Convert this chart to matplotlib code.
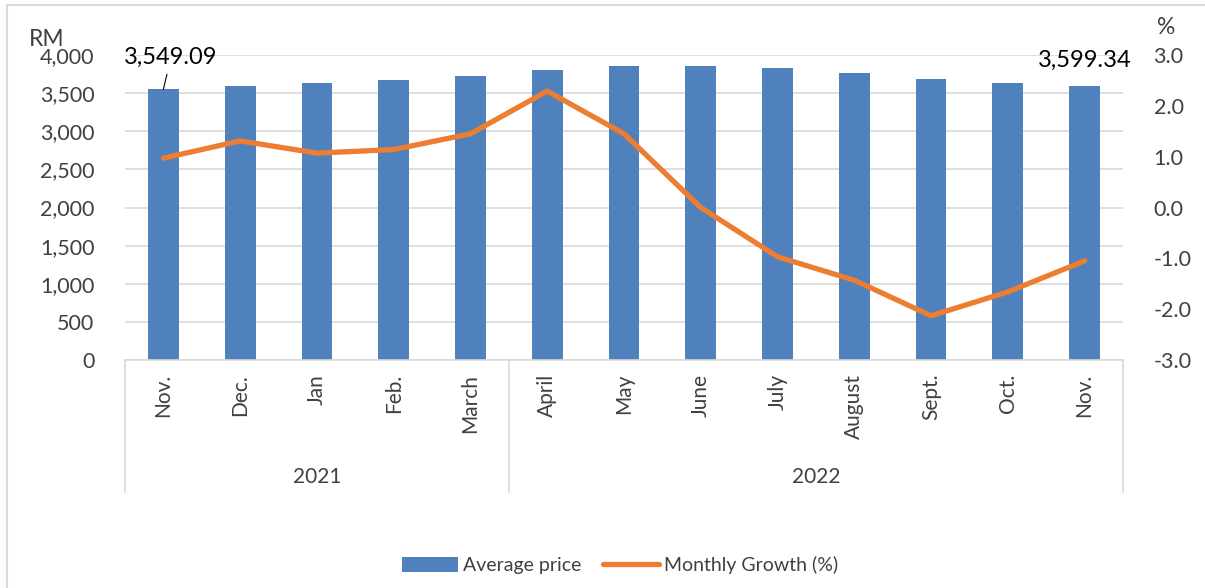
import matplotlib
matplotlib.use("Agg")
import matplotlib.pyplot as plt
from matplotlib.lines import Line2D
from matplotlib.patches import Patch
from matplotlib.ticker import FuncFormatter
import matplotlib.transforms as mtrans

plt.rcParams["font.family"] = ["Lato", "DejaVu Sans"]
plt.rcParams["axes.unicode_minus"] = False

months = ["Nov.", "Dec.", "Jan", "Feb.", "March", "April", "May", "June",
          "July", "August", "Sept.", "Oct.", "Nov."]
years = ["2021", "2022"]
year_counts = [5, 8]
avg_price = [3549.09, 3587, 3630, 3670, 3726, 3806, 3862, 3862, 3828, 3770,
             3688, 3636, 3599.34]
growth = [0.97, 1.31, 1.07, 1.14, 1.45, 2.29, 1.45, 0.0, -0.97, -1.43,
          -2.13, -1.66, -1.05]

blue = "#4F81BD"
orange = "#ED7D31"
grid = "#D9D9D9"
txt = "#404040"

W, H = 1205, 588
fig = plt.figure(figsize=(W / 100, H / 100), dpi=100)

# plot area in pixels: x 125..1123, y 55..360
ax = fig.add_axes([125 / W, 1 - 360 / H, (1123 - 125) / W, (360 - 55) / H])
x = list(range(len(months)))
ax.bar(x, avg_price, width=0.4, color=blue, zorder=2)
ax.set_xlim(-0.5, len(months) - 0.5)
ax.set_ylim(0, 4000)
ax.set_yticks(range(0, 4001, 500))
ax.yaxis.set_major_formatter(FuncFormatter(lambda v, p: f"{v:,.0f}"))
ax.grid(axis="y", color=grid, lw=1.2, zorder=0)
ax.set_axisbelow(True)
for s in ["top", "right", "left"]:
    ax.spines[s].set_visible(False)
ax.spines["bottom"].set_color(grid)
ax.spines["bottom"].set_linewidth(1.2)
ax.tick_params(axis="y", length=0, pad=22, labelsize=15.5, labelcolor=txt)
ax.set_xticks(x)
ax.set_xticklabels(months, rotation=90, fontsize=15, color=txt)
ax.tick_params(axis="x", length=0, pad=10)

ax2 = ax.twinx()
ax2.plot(x, growth, color=orange, lw=3.8, solid_capstyle="round", zorder=3)
ax2.set_ylim(-3, 3)
ax2.set_yticks([-3, -2, -1, 0, 1, 2, 3])
ax2.yaxis.set_major_formatter(FuncFormatter(lambda v, p: f"{v:.1f}"))
for s in ["top", "right", "left", "bottom"]:
    ax2.spines[s].set_visible(False)
ax2.tick_params(axis="y", length=0, pad=22, labelsize=15.5, labelcolor=txt)

# two-level category axis
tr = mtrans.blended_transform_factory(ax.transData, ax.transAxes)
ybot = -(492 - 360) / (360 - 55)
edges = [-0.5]
for n in year_counts:
    edges.append(edges[-1] + n)
for e in edges:
    ax.add_line(Line2D([e, e], [0, ybot], transform=tr, color=grid, lw=1.2,
                       clip_on=False))
for i, yr in enumerate(years):
    xc = (edges[i] + edges[i + 1]) / 2
    ax.text(xc, -(477 - 360) / (360 - 55), yr, transform=tr, ha="center",
            va="center", fontsize=15, color=txt)

# data labels
ax.annotate("3,549.09", xy=(0, avg_price[0]), xytext=(0.1, 3975),
            ha="center", va="center", fontsize=17, color="black",
            arrowprops=dict(arrowstyle="-", lw=0.8, color="black",
                            shrinkA=3, shrinkB=0))
ax.text(12.0, 3935, "3,599.34", ha="center", va="center", fontsize=17,
        color="black")

# axis unit labels
fig.text(47 / W, 1 - 39 / H, "RM", ha="center", va="center", fontsize=16.5,
         color=txt)
fig.text(1166 / W, 1 - 27 / H, "%", ha="center", va="center", fontsize=16.5,
         color=txt)

# legend
handles = [Patch(facecolor=blue, edgecolor="none"),
           Line2D([0], [0], color=orange, lw=3.8, solid_capstyle="round")]
fig.legend(handles, ["Average price", "Monthly Growth (%)"], loc="center",
           bbox_to_anchor=(620 / W, 1 - 565 / H), ncol=2, frameon=False,
           fontsize=14, labelcolor=txt, handlelength=2.9, handleheight=0.8,
           columnspacing=1.1, handletextpad=0.25)

# chart outer border
fig.add_artist(Line2D([7 / W, 7 / W], [0, 1 - 5 / H], color=grid, lw=1.5))
fig.add_artist(Line2D([7 / W, 1], [1 - 5 / H, 1 - 5 / H], color=grid, lw=1.5))

fig.savefig("out.png", dpi=100)
